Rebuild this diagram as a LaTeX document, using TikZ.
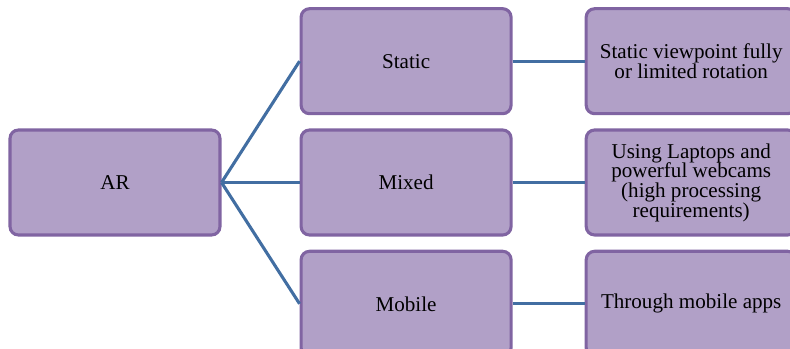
\documentclass[tikz,border=0pt]{standalone}
\usepackage{fontspec}
\setmainfont{Liberation Serif}
\usetikzlibrary{positioning}

\definecolor{boxfill}{HTML}{B1A0C7}
\definecolor{boxline}{HTML}{8064A2}
\definecolor{linkblue}{RGB}{66,110,162}

\begin{document}
\begin{tikzpicture}[
	box/.style={
		draw=boxline,
		line width=2.2pt,
		rounded corners=6pt,
		fill=boxfill,
		minimum height=2.625cm,
		minimum width=5.25cm,
		align=center,
		font=\fontsize{15}{14}\selectfont
	},
	link/.style={draw=linkblue, line width=2.2pt}
	]
	
	% picture frame (right column runs off the edge)
	\clip (-2.875,4.5625) rectangle (16.875,-4.1625);
	
	% ======================
	% Root
	% ======================
	\node (ar) [box] at (0,0) {AR};
	
	% ======================
	% Kinds
	% ======================
	\node (mixed) [box, right=1.95cm of ar] {Mixed};
	\node (static) [box, above=0.33cm of mixed] {Static};
	\node (mobile) [box, below=0.33cm of mixed] {Mobile};
	
	\draw[link] (ar.east) -- (static.west);
	\draw[link] (ar.east) -- (mixed.west);
	\draw[link] (ar.east) -- (mobile.west);
	
	% ======================
	% Descriptions
	% ======================
	\node (viewpoint) [box, right=1.8cm of static] {Static viewpoint fully\\or limited rotation};
	\node (laptops) [box, right=1.8cm of mixed] {Using Laptops and\\powerful webcams\\(high processing\\requirements)};
	\node (apps) [box, right=1.8cm of mobile] {Through mobile apps};
	
	\draw[link] (static) -- (viewpoint);
	\draw[link] (mixed) -- (laptops);
	\draw[link] (mobile) -- (apps);
	
\end{tikzpicture}
\end{document}
